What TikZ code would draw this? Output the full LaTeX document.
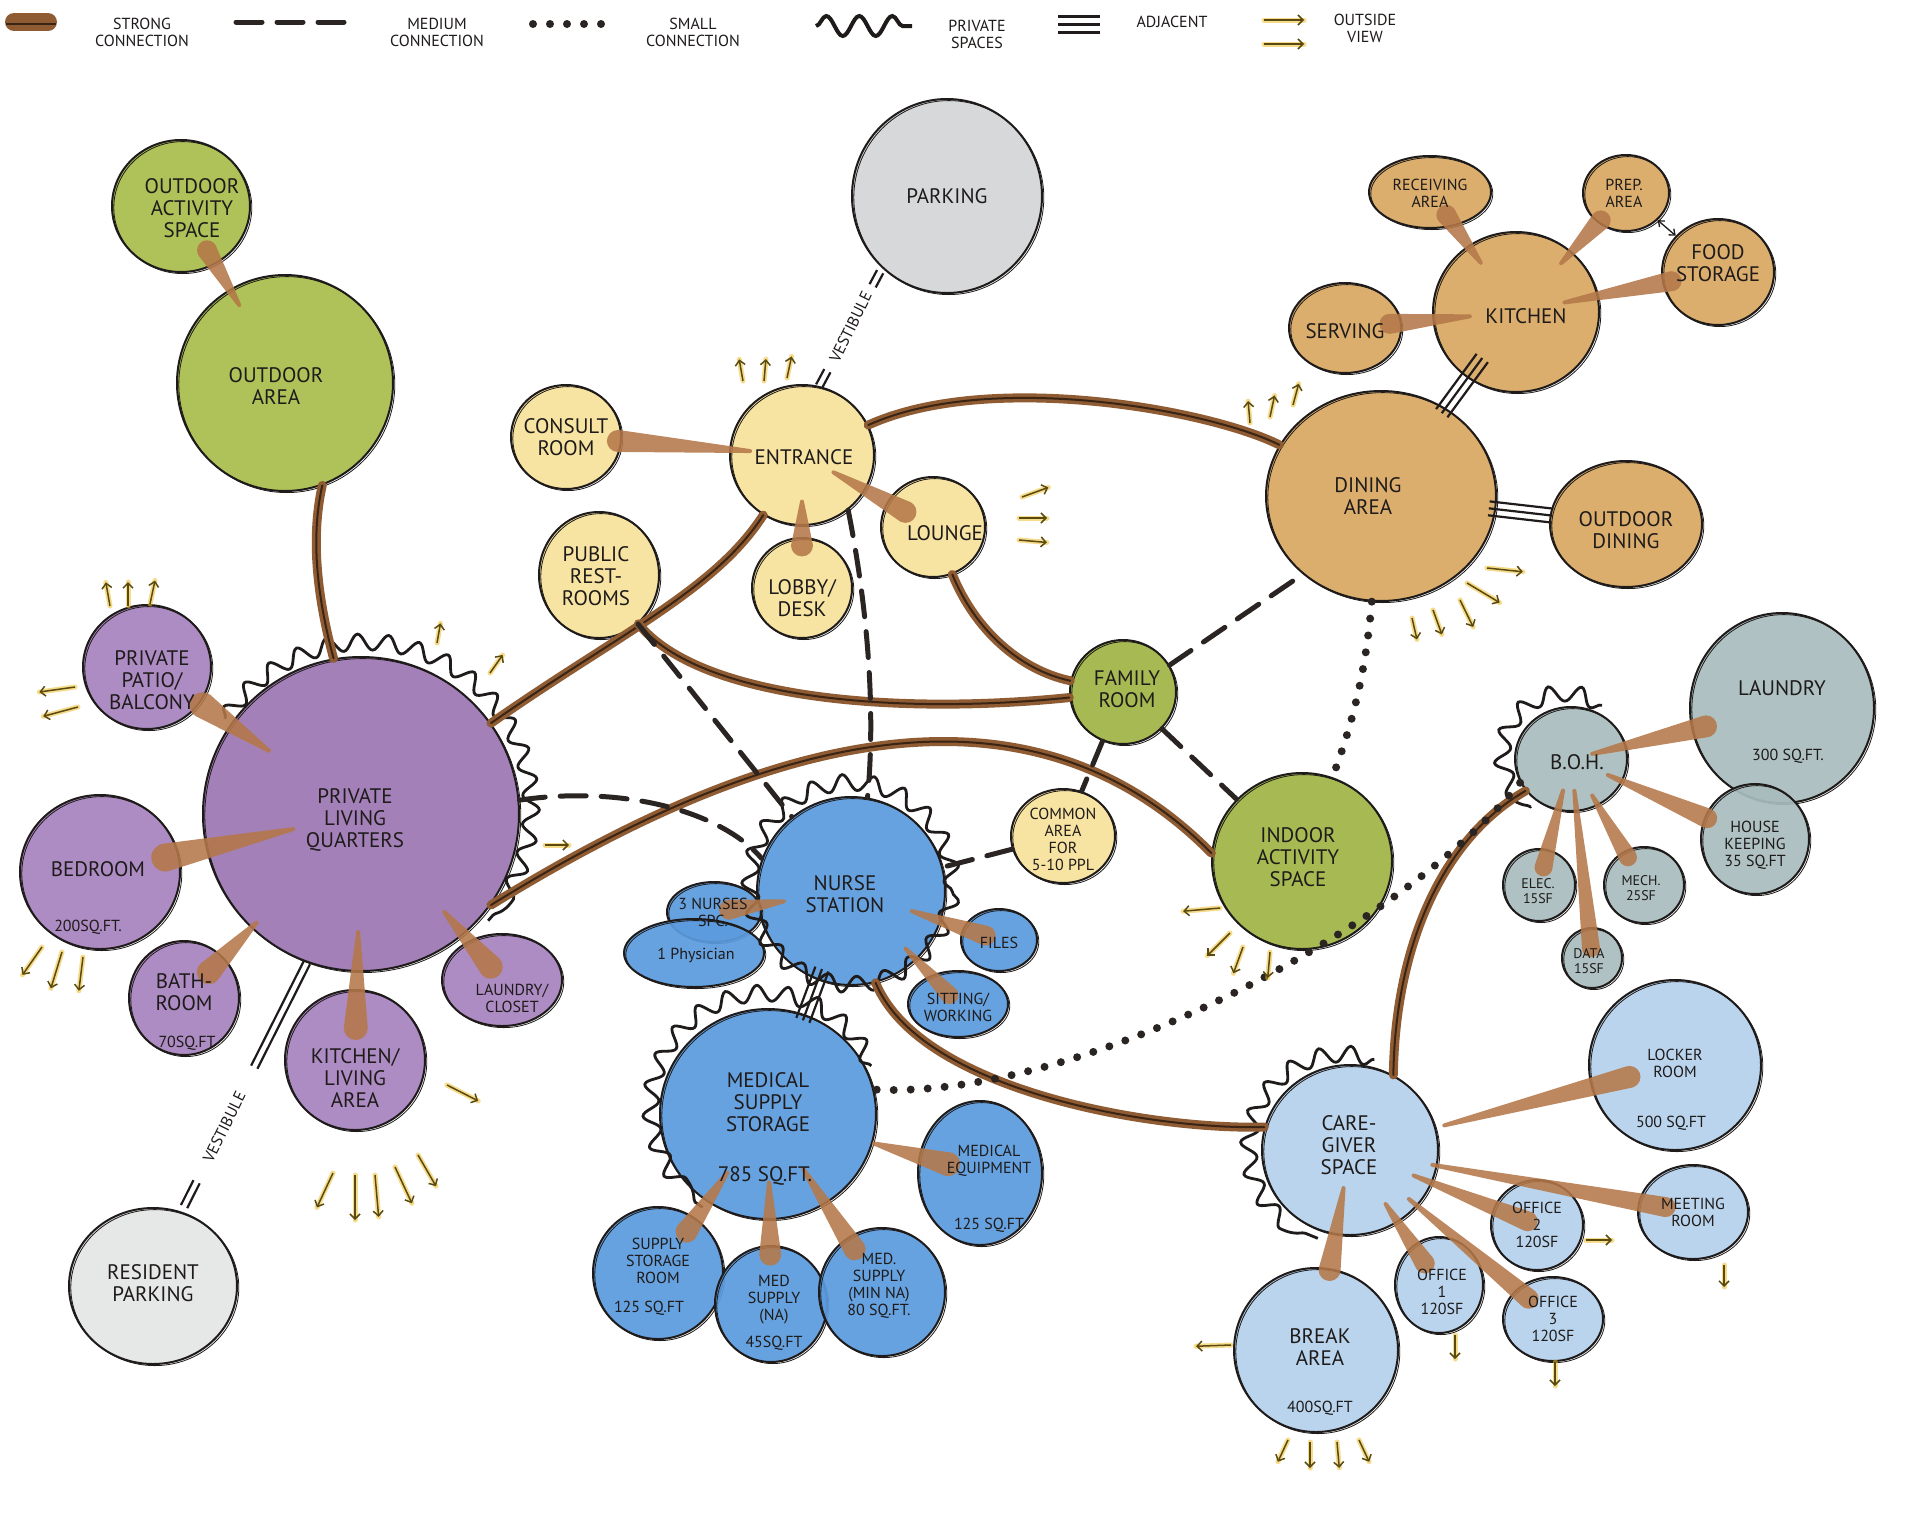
\documentclass[tikz,border=0pt]{standalone}
\usepackage{fontspec}
\setmainfont{PT Sans}
\usetikzlibrary{calc,shapes.geometric,arrows.meta,decorations.pathmorphing}
\definecolor{inkc}{HTML}{1E1B1A}
\definecolor{greenc}{HTML}{A9BD4B}
\definecolor{greenb}{HTML}{A0B444}
\definecolor{purc}{HTML}{A782BE}
\definecolor{purd}{HTML}{9C76B2}
\definecolor{yelc}{HTML}{F8E29B}
\definecolor{tanc}{HTML}{D9A862}
\definecolor{bluc}{HTML}{5B9BDE}
\definecolor{lbluc}{HTML}{B5D1EC}
\definecolor{gryc}{HTML}{A9BCBD}
\definecolor{pkgc}{HTML}{D4D5D7}
\definecolor{rpkc}{HTML}{E4E5E6}
\definecolor{spokec}{HTML}{B57849}
\definecolor{strongc}{HTML}{8E5B33}
\definecolor{strongdk}{HTML}{3A2414}
\definecolor{dashc}{HTML}{2A2522}
\definecolor{ovy}{HTML}{EDBE2A}
\definecolor{ovd}{HTML}{5A4A10}
\newcommand\lfont{\fontsize{21}{22}\selectfont}
\newcommand\lsfont{\fontsize{16}{17}\selectfont}
\newcommand\lxsfont{\fontsize{14}{15}\selectfont}
\newcommand\bubble[5]{\node[bub,#1,minimum width=2*#4pt,minimum height=2*#5pt] (#2) at (#3) {};}
\newcommand\spoke[5]{\fill[spk] ($(#1)!#3!(#2)!2pt!90:(#2)$) -- ($(#1)!#4!(#2)!#5pt!90:(#2)$) -- ($(#1)!#4!(#2)!#5pt!-90:(#2)$) -- ($(#1)!#3!(#2)!2pt!-90:(#2)$) -- cycle ($(#1)!#4!(#2)$) circle (#5pt) ($(#1)!#4!(#2)$) circle (#5pt) ($(#1)!#3!(#2)$) circle (2pt) ($(#1)!#3!(#2)$) circle (2pt);}
\newcommand\tripl[4]{\foreach \o in {-7pt,0pt,7pt}{\draw[adjs] ($(#1)!#3!(#2)!\o!90:(#2)$) -- ($(#1)!#4!(#2)!\o!90:(#2)$);}}
\newcommand\dbl[4]{\foreach \o in {-3.5pt,3.5pt}{\draw[adjs] ($(#1)!#3!(#2)!\o!90:(#2)$) -- ($(#1)!#4!(#2)!\o!90:(#2)$);}}
\newcommand\ov[3]{\draw[ovglow] (#1) -- ++(#2:#3); \draw[ovarr] (#1) -- ++(#2:#3);}
\tikzset{
 bub/.style={ellipse, draw=inkc, line width=2pt, inner sep=0pt, fill opacity=0.92, draw opacity=1,
   postaction={draw=inkc, line width=0.8pt, fill opacity=0, transform canvas={shift={(1.8pt,-1.6pt)}}}},
 grn/.style={fill=greenc}, grnb/.style={fill=greenb},
 pur/.style={fill=purc}, purd/.style={fill=purd},
 yel/.style={fill=yelc}, tanb/.style={fill=tanc},
 blu/.style={fill=bluc}, lblu/.style={fill=lbluc},
 gry/.style={fill=gryc}, pkg/.style={fill=pkgc}, rpk/.style={fill=rpkc},
 lt/.style={font=\lfont, align=center, text=inkc, inner sep=0pt},
 lts/.style={lt, font=\lsfont},
 ltxs/.style={lt, font=\lxsfont},
 lg/.style={lt, font=\lsfont},
 spk/.style={fill=spokec, fill opacity=0.88},
 strong/.style={draw=strongc, line width=9pt, line cap=round, postaction={draw=strongdk, line width=2pt, line cap=round}},
 medium/.style={draw=dashc, line width=5pt, dash pattern=on 26pt off 15pt, line cap=round},
 small/.style={draw=dashc, line width=8pt, dash pattern=on 0pt off 17pt, line cap=round},
 adjs/.style={draw=inkc, line width=2.2pt},
 wavy/.style={draw=inkc, line width=2.8pt, decorate, decoration={snake, amplitude=8pt, segment length=30pt}},
 ovglow/.style={draw=ovy, line width=5pt, line cap=round, opacity=0.55},
 ovarr/.style={draw=ovd, line width=1.5pt, -{Straight Barb[length=5pt,width=10pt]}},
}
\begin{document}
\begin{tikzpicture}[x=1pt,y=1pt]
\useasboundingbox[fill=white] (0,0) rectangle (1920,-1524);
% ---------- bubbles ----------
\bubble{grn}{oas}{181,-206}{69}{66}
\bubble{grn}{oarea}{285,-383}{108}{108}
\bubble{pkg}{parking}{947,-196}{95}{97}
\bubble{yel}{consult}{566,-437}{55}{52}
\bubble{yel}{entrance}{802,-455}{72}{70}
\bubble{yel}{restrooms}{599,-575}{60}{63}
\bubble{yel}{lobby}{802,-588}{50}{50}
\bubble{yel}{lounge}{933,-527}{52}{50}
\bubble{tanb}{kitchen}{1516,-312}{83}{80}
\bubble{tanb}{receiving}{1430,-192}{61}{36}
\bubble{tanb}{prep}{1626,-193}{43}{38}
\bubble{tanb}{foodst}{1718,-272}{56}{53}
\bubble{tanb}{serving}{1345,-328}{56}{45}
\bubble{tanb}{dining}{1381,-496}{115}{105}
\bubble{tanb}{outdining}{1626,-524}{76}{63}
\bubble{grnb}{family}{1123,-692}{53}{52}
\bubble{yel}{common}{1063,-836}{52}{47}
\bubble{grnb}{indoor}{1302,-861}{90}{88}
\bubble{purd}{plq}{361,-814}{158}{157}
\bubble{pur}{patio}{147,-667}{64}{62}
\bubble{pur}{bedroom}{100,-872}{80}{77}
\bubble{pur}{bath}{184,-998}{55}{57}
\bubble{pur}{kitliv}{355,-1060}{70}{70}
\bubble{pur}{laundcl}{502,-980}{60}{46}
\bubble{rpk}{resparking}{153,-1286}{84}{78}
\bubble{blu}{nurse}{851,-891}{94}{94}
\bubble{blu}{medsup}{768,-1114}{108}{105}
\bubble{blu}{nurses3}{714,-912}{47}{30}
\bubble{blu}{physician}{694,-953}{70}{34}
\bubble{blu}{files}{999,-940}{38}{31}
\bubble{blu}{sitting}{958,-1004}{50}{33}
\bubble{blu}{medequip}{980,-1173}{62}{72}
\bubble{blu}{supplyst}{658,-1273}{65}{66}
\bubble{blu}{medna}{771,-1304}{56}{58}
\bubble{blu}{medminna}{882,-1292}{63}{64}
\bubble{gry}{boh}{1571,-759}{56}{52}
\bubble{gry}{laundry}{1782,-708}{92}{95}
\bubble{gry}{housek}{1755,-839}{54}{55}
\bubble{gry}{elec}{1539,-885}{36}{36}
\bubble{gry}{mech}{1644,-885}{40}{38}
\bubble{gry}{data}{1592,-958}{30}{30}
\bubble{lblu}{caregiver}{1350,-1150}{88}{85}
\bubble{lblu}{locker}{1675,-1065}{86}{85}
\bubble{lblu}{meeting}{1693,-1212}{55}{47}
\bubble{lblu}{office2}{1537,-1225}{46}{45}
\bubble{lblu}{office1}{1439,-1285}{44}{48}
\bubble{lblu}{office3}{1553,-1319}{50}{42}
\bubble{lblu}{break}{1316,-1350}{82}{82}
% ---------- private (wavy) outlines ----------
\draw[wavy] ([shift={(145:166)}]plq.center) arc[start angle=145, end angle=-40, radius=166];
\draw[wavy] (nurse.center) circle[radius=101];
\draw[wavy] ([shift={(25:114)}]medsup.center) arc[start angle=25, end angle=235, radius=114];
\draw[wavy] ([shift={(60:62)}]boh.center) arc[start angle=60, end angle=230, radius=62];
\draw[wavy] ([shift={(75:94)}]caregiver.center) arc[start angle=75, end angle=250, radius=94];
% ---------- spokes ----------
\spoke{oarea}{oas}{0.44}{0.75}{10}
\spoke{entrance}{consult}{0.22}{0.78}{11}
\spoke{entrance}{lounge}{0.24}{0.79}{11}
\spoke{entrance}{lobby}{0.35}{0.68}{11}
\spoke{kitchen}{receiving}{0.41}{0.81}{10}
\spoke{kitchen}{prep}{0.41}{0.77}{10}
\spoke{kitchen}{foodst}{0.24}{0.77}{10}
\spoke{kitchen}{serving}{0.27}{0.74}{10}
\spoke{plq}{patio}{0.43}{0.74}{13}
\spoke{plq}{bedroom}{0.26}{0.75}{14}
\spoke{plq}{bath}{0.59}{0.86}{12}
\spoke{plq}{kitliv}{0.48}{0.87}{12}
\spoke{plq}{laundcl}{0.59}{0.92}{12}
\spoke{nurse}{nurses3}{0.49}{0.89}{10}
\spoke{nurse}{files}{0.41}{0.91}{10}
\spoke{nurse}{sitting}{0.51}{0.92}{9}
\spoke{medsup}{medequip}{0.5}{0.85}{12}
\spoke{medsup}{supplyst}{0.37}{0.74}{11}
\spoke{medsup}{medna}{0.36}{0.74}{11}
\spoke{medsup}{medminna}{0.31}{0.76}{11}
\spoke{boh}{laundry}{0.1}{0.64}{11}
\spoke{boh}{housek}{0.2}{0.74}{10}
\spoke{boh}{elec}{0.25}{0.86}{9}
\spoke{boh}{data}{0.16}{0.95}{9}
\spoke{boh}{mech}{0.29}{0.78}{9}
\spoke{caregiver}{locker}{0.29}{0.86}{11}
\spoke{caregiver}{meeting}{0.24}{0.92}{10}
\spoke{caregiver}{office2}{0.34}{0.95}{10}
\spoke{caregiver}{office3}{0.29}{0.88}{10}
\spoke{caregiver}{office1}{0.4}{0.84}{10}
\spoke{caregiver}{break}{0.19}{0.6}{11}
% ---------- strong connections ----------
\draw[strong] (oarea.-70) .. controls (310,-540) and (318,-600) .. (plq.100);
\draw[strong] (plq) .. controls (620,-633) and (715,-590) .. (entrance);
\draw[strong] (restrooms) .. controls (700,-700) and (900,-715) .. (family);
\draw[strong] (lounge) .. controls (975,-630) and (1020,-670) .. (family);
\draw[strong] (entrance) .. controls (990,-370) and (1210,-410) .. (dining);
\draw[strong] (plq.-35) .. controls (697,-778) and (999,-638) .. (indoor.175);
\draw[strong] (nurse.-75) .. controls (920,-1090) and (1150,-1130) .. (caregiver.165);
\draw[strong] (caregiver.60) .. controls (1395,-950) and (1440,-840) .. (boh.215);
% ---------- medium connections ----------
\draw[medium] (plq.5) .. controls (620,-785) and (720,-810) .. (nurse.160);
\draw[medium] (restrooms) -- (nurse);
\draw[medium] (entrance.-50) .. controls (870,-620) and (875,-720) .. (nurse.80);
\draw[medium] (family) -- (common);
\draw[medium] (common) -- (nurse);
\draw[medium] (family.30) -- (dining.225);
\draw[medium] (family) -- (indoor);
% ---------- small connections ----------
\draw[small] (dining.-95) .. controls (1365,-680) and (1350,-730) .. (indoor.70);
\draw[small] (boh.205) .. controls (1400,-930) and (1080,-1100) .. (medsup.13);
% ---------- adjacent ----------
\tripl{kitchen}{dining}{0.25}{0.55}
\tripl{dining}{outdining}{0.44}{0.70}
\tripl{nurse}{medsup}{0.35}{0.58}
\draw[inkc, line width=1.3pt, {Straight Barb[length=5pt,width=8pt]}-{Straight Barb[length=5pt,width=8pt]}] (prep) -- (foodst);
% ---------- vestibules ----------
\coordinate (va) at (entrance.76);
\coordinate (vb) at (parking.228);
\dbl{va}{vb}{0}{0.13}
\dbl{va}{vb}{0.85}{0.97}
\node[lts, rotate=64] (vest1) at ($(va)!0.5!(vb)$) {VESTIBULE};
\coordinate (vc) at (plq.250);
\coordinate (vd) at (resparking.69);
\dbl{vc}{vd}{0}{0.42}
\dbl{vc}{vd}{0.88}{0.98}
\node[lts, rotate=63.7] (vest2) at ($(vc)!0.66!(vd)$) {VESTIBULE};
% ---------- labels ----------
\node[lt] at (192,-208) {OUTDOOR\\ACTIVITY\\SPACE};
\node[lt] at (276,-386) {OUTDOOR\\AREA};
\node[lt] at (947,-196) {PARKING};
\node[lt] at (566,-437) {CONSULT\\ROOM};
\node[lt] at (804,-457) {ENTRANCE};
\node[lt] at (596,-576) {PUBLIC\\REST-\\ROOMS};
\node[lt] at (802,-598) {LOBBY/\\DESK};
\node[lt] at (945,-533) {LOUNGE};
\node[lt] at (1526,-316) {KITCHEN};
\node[lts] at (1430,-193) {RECEIVING\\AREA};
\node[lts] at (1624,-193) {PREP.\\AREA};
\node[lt] at (1718,-263) {FOOD\\STORAGE};
\node[lt] at (1345,-331) {SERVING};
\node[lt] at (1368,-496) {DINING\\AREA};
\node[lt] at (1626,-530) {OUTDOOR\\DINING};
\node[lt] at (1127,-689) {FAMILY\\ROOM};
\node[lts] at (1063,-839) {COMMON\\AREA\\FOR\\5-10 PPL};
\node[lt] at (1298,-857) {INDOOR\\ACTIVITY\\SPACE};
\node[lt] at (355,-820) {PRIVATE\\LIVING\\QUARTERS};
\node[lt] at (152,-680) {PRIVATE\\PATIO/\\BALCONY};
\node[lt] at (98,-869) {BEDROOM};
\node[lts] at (88,-927) {200SQ.FT.};
\node[lt] at (184,-992) {BATH-\\ROOM};
\node[lts] at (187,-1043) {70SQ.FT};
\node[lt] at (355,-1078) {KITCHEN/\\LIVING\\AREA};
\node[lts] at (512,-998) {LAUNDRY/\\CLOSET};
\node[lt] at (153,-1283) {RESIDENT\\PARKING};
\node[lt] at (845,-894) {NURSE\\STATION};
\node[lts] at (713,-912) {3 NURSES\\SPC.};
\node[lts] at (696,-955) {1 Physician};
\node[lts] at (999,-943) {FILES};
\node[lts] at (958,-1007) {SITTING/\\WORKING};
\node[lt] at (768,-1102) {MEDICAL\\SUPPLY\\STORAGE};
\node[lt] at (765,-1176) {785 SQ.FT.};
\node[lts] at (989,-1161) {MEDICAL\\EQUIPMENT};
\node[lts] at (989,-1225) {125 SQ.FT};
\node[lts] at (658,-1261) {SUPPLY\\STORAGE\\ROOM};
\node[lts] at (649,-1308) {125 SQ.FT};
\node[lts] at (774,-1300) {MED\\SUPPLY\\(NA)};
\node[lts] at (774,-1343) {45SQ.FT};
\node[lts] at (879,-1286) {MED.\\SUPPLY\\(MIN NA)\\80 SQ.FT.};
\node[lt] at (1577,-762) {B.O.H.};
\node[lt] at (1782,-688) {LAUNDRY};
\node[lts] at (1788,-756) {300 SQ.FT.};
\node[lts] at (1755,-845) {HOUSE\\KEEPING\\35 SQ.FT};
\node[ltxs] at (1538,-891) {ELEC.\\15SF};
\node[ltxs] at (1641,-888) {MECH.\\25SF};
\node[ltxs] at (1589,-961) {DATA\\15SF};
\node[lt] at (1349,-1145) {CARE-\\GIVER\\SPACE};
\node[lts] at (1675,-1063) {LOCKER\\ROOM};
\node[lts] at (1671,-1123) {500 SQ.FT};
\node[lts] at (1693,-1212) {MEETING\\ROOM};
\node[lts] at (1537,-1225) {OFFICE\\2\\120SF};
\node[lts] at (1442,-1292) {OFFICE\\1\\120SF};
\node[lts] at (1553,-1319) {OFFICE\\3\\120SF};
\node[lt] at (1320,-1347) {BREAK\\AREA};
\node[lts] at (1320,-1408) {400SQ.FT};
% ---------- outside view arrows ----------
\ov{110,-606}{100}{24} \ov{128,-606}{90}{24} \ov{150,-604}{78}{24}
\ov{75,-687}{188}{36} \ov{78,-707}{195}{36}
\ov{42,-947}{235}{34} \ov{62,-952}{253}{38} \ov{83,-957}{263}{34}
\ov{437,-643}{80}{20} \ov{490,-673}{55}{22}
\ov{545,-845}{0}{24}
\ov{447,-1085}{-27}{35}
\ov{333,-1173}{245}{38} \ov{355,-1175}{270}{45} \ov{375,-1175}{275}{42} \ov{395,-1167}{295}{40} \ov{418,-1155}{300}{36}
\ov{743,-381}{100}{22} \ov{764,-381}{85}{22} \ov{787,-378}{78}{22}
\ov{1022,-497}{20}{28} \ov{1019,-518}{0}{28} \ov{1019,-540}{-5}{28}
\ov{1250,-423}{95}{22} \ov{1270,-417}{78}{22} \ov{1293,-405}{75}{22}
\ov{1487,-568}{-6}{36} \ov{1467,-583}{-31}{38} \ov{1460,-600}{-64}{30} \ov{1433,-610}{-70}{26} \ov{1412,-618}{-77}{22}
\ov{1220,-908}{185}{37} \ov{1230,-933}{225}{32} \ov{1243,-947}{250}{28} \ov{1270,-952}{265}{26}
\ov{1586,-1240}{0}{26}
\ov{1724,-1265}{270}{22}
\ov{1455,-1335}{270}{24}
\ov{1555,-1362}{270}{24}
\ov{1231,-1345}{182}{35}
\ov{1288,-1440}{245}{24} \ov{1310,-1442}{270}{26} \ov{1337,-1442}{275}{26} \ov{1359,-1440}{295}{24}
% ---------- legend ----------
\draw[draw=strongc, line width=18pt, line cap=round] (14,-22) -- (48,-22);
\draw[draw=strongdk, line width=2pt] (6,-24) -- (56,-24);
\node[lg] (lgstrong) at (142,-32) {STRONG\\CONNECTION};
\draw[medium] (236,-22) -- (358,-22);
\node[lg] (lgmed) at (437,-32) {MEDIUM\\CONNECTION};
\draw[small] (533,-24) -- (604,-24);
\node[lg] (lgsmall) at (693,-32) {SMALL\\CONNECTION};
\draw[draw=inkc, line width=4pt, decorate, decoration={snake, amplitude=10pt, segment length=33pt}] (816,-26) -- (912,-26);
\node[lg] (lgpriv) at (977,-34) {PRIVATE\\SPACES};
\draw[adjs, line width=3pt] (1058,-16) -- (1100,-16) (1058,-24) -- (1100,-24) (1058,-32) -- (1100,-32);
\node[lg] (lgadj) at (1172,-22) {ADJACENT};
\ov{1264,-20}{0}{40} \ov{1264,-44}{0}{40}
\node[lg] (lgview) at (1365,-28) {OUTSIDE\\VIEW};
\end{tikzpicture}
\end{document}
